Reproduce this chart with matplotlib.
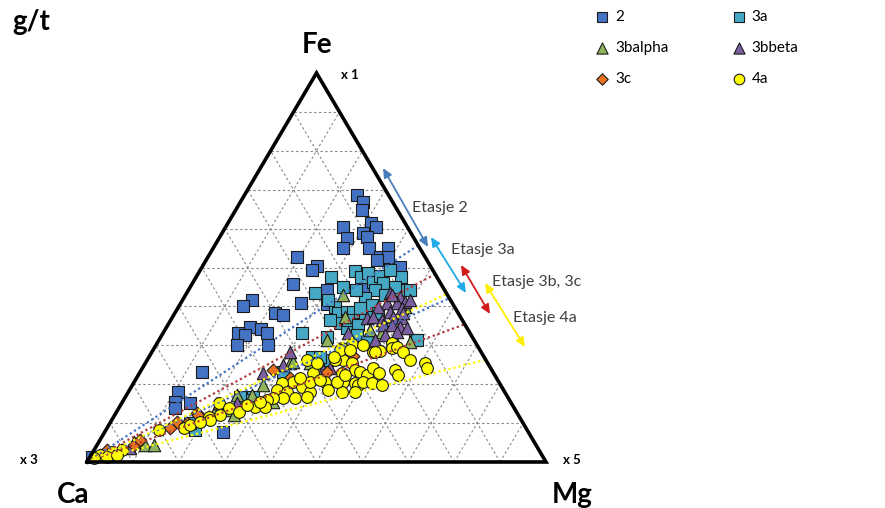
import matplotlib
matplotlib.use('Agg')
import matplotlib.pyplot as plt
import numpy as np

W, H = 885, 508
plt.rcParams['font.family'] = ['Lato', 'DejaVu Sans']

# ---------------- data (ternary percentages; Ca = 100 - Fe - Mg) ----------------
series_names = ['2', '3a', '3balpha', '3bbeta', '3c', '4a']

fe_2 = [68.6, 66.8, 64.8, 60.4, 57.6, 55.0, 61.4, 60.4, 58.9, 57.8, 55.0, 52.7, 55.0, 52.7, 51.9,
        50.1, 52.7, 50.4, 49.4, 45.8, 40.9, 41.6, 40.1, 38.3, 37.8, 34.7, 34.2, 33.2, 33.2, 32.6,
        30.1, 30.1, 23.1, 18.0, 15.4, 13.9, 15.2, 7.7, 31.4, 44.2, 1.3, 40.6, 45.2]
mg_2 = [24.5, 26.7, 27.5, 25.6, 27.8, 28.3, 31.2, 32.8, 30.6, 32.1, 33.9, 37.4, 38.1, 39.2, 37.2,
        43.1, 19.4, 24.9, 24.3, 22.0, 26.1, 15.1, 13.9, 21.8, 23.8, 18.1, 20.8, 22.6, 16.3, 18.1,
        17.6, 24.3, 13.5, 10.8, 11.5, 12.2, 14.8, 25.7, 55.8, 30.2, 0.5, 32.0, 37.5]

fe_3a = [47.6, 49.1, 47.6, 48.6, 46.3, 47.8, 46.0, 47.6, 43.4, 44.2, 42.2, 42.9, 39.8, 38.3, 38.6,
         39.6, 40.4, 37.0, 37.3, 38.3, 35.7, 41.6, 45.0, 38.6, 39.6, 34.4, 36.5, 35.2, 32.6, 30.8,
         32.1, 31.4, 33.2, 27.0, 16.7, 15.9, 8.2, 10.0, 16.7, 26.2, 27.0, 44.2, 45.0, 23.1, 49.4,
         44.2, 36.5, 44.2]
mg_3a = [29.4, 33.8, 35.9, 36.9, 39.2, 39.9, 41.5, 44.6, 28.0, 40.6, 39.5, 43.4, 34.1, 35.5, 37.3,
         40.8, 41.9, 41.6, 43.5, 44.2, 37.2, 31.7, 33.3, 38.7, 39.7, 39.4, 38.6, 41.4, 42.5, 45.6,
         36.2, 56.2, 30.2, 35.5, 27.8, 26.4, 19.4, 17.4, 24.9, 39.8, 37.3, 46.1, 44.6, 31.1, 41.3,
         48.3, 34.6, 36.5]

fe_3balpha = [42.9, 37.3, 33.9, 33.4, 31.4, 30.8, 39.8, 25.4, 19.8, 17.2, 15.4, 24.2, 13.4, 12.1,
              12.6, 4.4, 4.4, 5.1, 17.2, 15.2, 25.7, 25.4, 31.4, 2.6]
mg_3balpha = [34.3, 37.6, 44.7, 47.6, 36.6, 55.0, 49.4, 31.5, 28.4, 27.3, 32.8, 38.0, 23.8, 25.9,
              21.4, 10.4, 12.4, 7.6, 24.1, 21.2, 32.0, 35.9, 51.4, 2.6]

fe_3bbeta = [43.4, 42.4, 41.1, 40.9, 40.9, 39.8, 38.6, 39.6, 37.0, 37.3, 36.5, 37.3, 37.0, 35.2,
             35.2, 34.7, 34.4, 33.4, 31.4, 42.9, 38.3, 28.3, 24.9, 22.9, 23.7, 24.2, 33.2, 3.6,
             2.6, 15.2, 41.6, 32.6]
mg_3bbeta = [44.3, 47.0, 48.7, 44.9, 47.0, 43.5, 46.7, 48.8, 42.5, 43.7, 46.0, 48.1, 50.1, 46.9,
             48.8, 50.8, 52.5, 50.8, 47.0, 44.9, 49.6, 30.0, 30.2, 26.8, 39.5, 40.8, 40.3, 7.6,
             3.1, 25.1, 49.6, 48.6]

fe_3c = [12.6, 10.3, 8.7, 10.0, 4.4, 3.1, 1.3, 23.7, 21.1, 23.1, 27.2, 12.1, 5.7, 1.8, 21.6]
mg_3c = [17.7, 14.5, 13.7, 16.8, 8.0, 2.9, 0.9, 28.6, 36.3, 40.7, 44.4, 18.2, 8.7, 1.9, 33.4]

fe_4a = [30.3, 30.1, 28.3, 28.5, 30.6, 29.3, 29.6, 28.3, 26.2, 25.4, 24.2, 29.3, 26.2, 25.4, 23.7,
         23.1, 22.4, 24.2, 22.9, 23.7, 22.4, 22.9, 20.6, 20.3, 19.8, 20.6, 20.3, 19.8, 18.0, 28.8,
         28.8, 26.2, 26.2, 22.9, 20.6, 20.6, 20.6, 20.3, 19.3, 18.0, 18.5, 18.5, 18.0, 16.5, 16.5,
         16.5, 15.9, 14.1, 14.1, 15.4, 18.0, 25.4, 20.6, 16.7, 15.2, 13.9, 12.9, 12.1, 11.6, 10.8,
         8.7, 9.5, 8.2, 3.1, 2.6, 1.8, 1.0, 1.3, 1.8, 27.0, 28.3, 21.1, 22.4, 10.3, 14.7, 21.6]
mg_4a = [42.5, 45.0, 48.1, 49.5, 51.1, 51.7, 52.7, 54.6, 57.3, 60.9, 62.0, 40.9, 42.7, 45.0, 46.5,
         47.9, 49.8, 50.2, 52.1, 55.2, 56.6, 44.1, 45.5, 48.2, 49.1, 49.8, 51.9, 54.4, 46.6, 40.7,
         42.9, 34.8, 40.9, 37.7, 41.6, 44.2, 34.6, 32.3, 37.1, 39.6, 43.2, 32.1, 34.6, 34.4, 37.0,
         32.2, 31.2, 29.5, 31.7, 30.0, 49.4, 37.4, 38.3, 39.5, 21.2, 23.9, 26.6, 22.9, 20.8, 21.4,
         16.7, 17.6, 11.6, 6.1, 4.1, 1.9, 1.0, 3.8, 5.6, 40.3, 48.5, 40.3, 45.0, 19.5, 27.6, 35.6]

grid_steps = [10, 20, 30, 40, 50, 60, 70, 80, 90]

# Fe % where each étage boundary line (from the Ca corner) meets the Fe-Mg side
trend_fe = [55.7, 42.1, 48.3, 35.4, 43.2, 26.3]
trend_colors = ['#4472C4', '#4472C4', '#B23A3A', '#B23A3A', '#FFFF00', '#FFFF00']

etasje_labels = ['Etasje 2', 'Etasje 3a', 'Etasje 3b, 3c', 'Etasje 4a']


def tern(fe, mg):
    fe = np.asarray(fe, dtype=float) / 100.0
    mg = np.asarray(mg, dtype=float) / 100.0
    return mg + fe / 2.0, fe


fig = plt.figure(figsize=(W / 100, H / 100), dpi=100)
ax = fig.add_axes([87 / W, 46 / H, 459 / W, 389 / H])
ax.set_xlim(0, 1)
ax.set_ylim(0, 1)
ax.axis('off')

# grid
gkw = dict(color='#8a8a8a', lw=0.8, dashes=(2.2, 2.2), zorder=1)
for g in grid_steps:
    t = g
    x, y = tern([t, t], [0, 100 - t]); ax.plot(x, y, **gkw)          # constant Fe
    x, y = tern([0, 100 - t], [t, t]); ax.plot(x, y, **gkw)          # constant Mg
    x, y = tern([0, 100 - t], [100 - t, 0]); ax.plot(x, y, **gkw)    # constant Ca

# triangle frame
x, y = tern([0, 0, 100, 0], [0, 100, 0, 0])
ax.plot(x, y, color='black', lw=2.6, solid_joinstyle='miter', zorder=6, clip_on=False)

styles = {
    '2': dict(marker='s', color='#4472C4', s=68),
    '3a': dict(marker='s', color='#45A9C5', s=68),
    '3balpha': dict(marker='^', color='#8FB35A', s=80),
    '3bbeta': dict(marker='^', color='#7A5EA0', s=80),
    '3c': dict(marker='D', color='#E8731E', s=42),
    '4a': dict(marker='o', color='#FFFF00', s=72),
}
data = {
    '2': (fe_2, mg_2), '3a': (fe_3a, mg_3a), '3balpha': (fe_3balpha, mg_3balpha),
    '3bbeta': (fe_3bbeta, mg_3bbeta), '3c': (fe_3c, mg_3c), '4a': (fe_4a, mg_4a),
}
handles = {}
for i, name in enumerate(series_names):
    fe, mg = data[name]
    x, y = tern(fe, mg)
    st = styles[name]
    handles[name] = ax.scatter(x, y, marker=st['marker'], s=st['s'], facecolor=st['color'],
                               edgecolor='#1b1b1b', linewidth=0.8, zorder=3 + i * 0.1,
                               clip_on=False, label=name)

# trend lines from Ca corner
for f, c in zip(trend_fe, trend_colors):
    x, y = tern([0, f], [0, 100 - f])
    ax.plot(x, y, color=c, lw=1.6, ls=(0, (1, 1.3)), zorder=5, clip_on=False)

# étage arrows (annotation, figure pixel coords)
arrows = [((383, 168), (428, 247), '#4A7EBB'),
          ((431, 237), (466, 293), '#1FA9E6'),
          ((461, 265), (490, 314), '#D01C1C'),
          ((485, 283), (525, 347), '#FFEE00')]
for (p0, p1, c) in arrows:
    ax.annotate('', xy=(p1[0], H - p1[1]), xytext=(p0[0], H - p0[1]),
                xycoords='figure pixels', textcoords='figure pixels',
                arrowprops=dict(arrowstyle='<|-|>,head_length=0.55,head_width=0.25',
                                color=c, lw=1.3, shrinkA=0, shrinkB=0))

label_pos = [(440, 208), (483, 250), (537, 282), (545, 318)]
for lab, (px, py) in zip(etasje_labels, label_pos):
    fig.text(px / W, 1 - py / H, lab, ha='center', va='center', fontsize=11.5, color='#404040')

# corner / unit labels
fig.text(317 / W, 1 - 45 / H, 'Fe', ha='center', va='center', fontsize=20, weight='bold')
fig.text(73 / W, 1 - 495 / H, 'Ca', ha='center', va='center', fontsize=20, weight='bold')
fig.text(572 / W, 1 - 495 / H, 'Mg', ha='center', va='center', fontsize=20, weight='bold')
fig.text(31 / W, 1 - 22 / H, 'g/t', ha='center', va='center', fontsize=20, weight='bold')
fig.text(350 / W, 1 - 75 / H, 'x 1', ha='center', va='center', fontsize=9.5, weight='bold')
fig.text(29 / W, 1 - 460 / H, 'x 3', ha='center', va='center', fontsize=9.5, weight='bold')
fig.text(572 / W, 1 - 460 / H, 'x 5', ha='center', va='center', fontsize=9.5, weight='bold')

order = ['2', '3balpha', '3c', '3a', '3bbeta', '4a']   # row-wise reading in 2 columns
fig.legend(handles=[handles[n] for n in order], labels=order, ncol=2, loc='upper left',
           bbox_to_anchor=(596 / W, 1 - 10 / H), frameon=False, fontsize=11,
           handlelength=0.8, handletextpad=0.45, columnspacing=4.2, labelspacing=1.1,
           borderpad=0, borderaxespad=0, scatterpoints=1, markerscale=0.9)

fig.savefig('out.png', dpi=100)
